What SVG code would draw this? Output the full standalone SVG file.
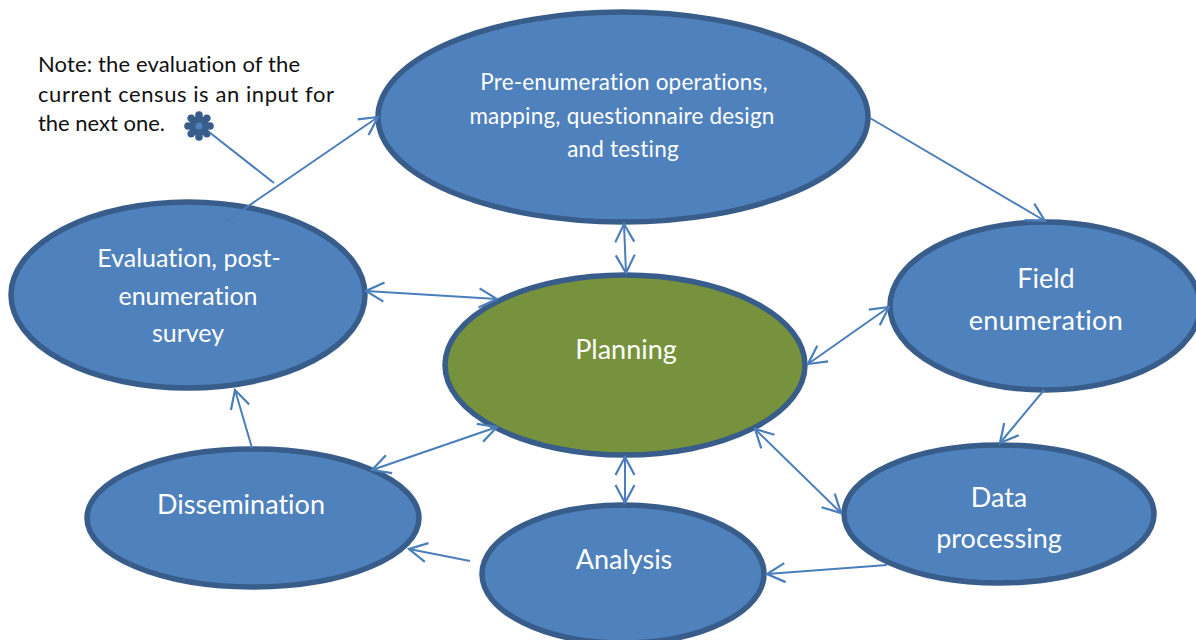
<svg xmlns="http://www.w3.org/2000/svg" width="1196" height="640" viewBox="0 0 1196 640">
<style>
.n{stroke:#385d8a;stroke-width:5.500}
.b{fill:#4f81bd}
.g{fill:#76923c}
text{font-family:"Lato","Open Sans","Liberation Sans",sans-serif;text-anchor:middle;fill:#fff;font-variant-ligatures:none}
.s{font-size:22.500px;letter-spacing:.2px}
.m{font-size:25px}
.l{font-size:27px}
.e{letter-spacing:.4px}
.note{font-size:22px;fill:#111;text-anchor:start}
.c{fill:none;stroke:#4a7ebb;stroke-width:2;marker-end:url(#a)}
.d{marker-start:url(#a)}
.p{fill:none;stroke:#4a7ebb;stroke-width:2}
</style>
<defs>
<marker id="a" markerUnits="userSpaceOnUse" markerWidth="24" markerHeight="24" refX="20" refY="12" orient="auto-start-reverse">
<path d="M2 2.500L20 12L2 21.500" fill="none" stroke="#4a7ebb" stroke-width="2.200"/>
</marker>
</defs>
<rect width="1196" height="640" fill="#fff"/>
<g id="note"><text class="note" x="38" y="72" textLength="262">Note: the evaluation of the</text><text class="note" x="38" y="102" textLength="296">current census is an input for</text><text class="note" x="38" y="131" textLength="127">the next one.</text></g>
<g id="star" fill="#385d8a"><circle cx="199" cy="126" r="10"/><circle cx="199" cy="115" r="3.800"/><circle cx="199" cy="137" r="3.800"/><circle cx="188" cy="126" r="3.800"/><circle cx="210" cy="126" r="3.800"/><circle cx="191.200" cy="118.200" r="3.800"/><circle cx="206.800" cy="118.200" r="3.800"/><circle cx="191.200" cy="133.800" r="3.800"/><circle cx="206.800" cy="133.800" r="3.800"/><circle cx="199" cy="126" r="3.500" fill="#4f81bd"/></g>
<g id="pre"><ellipse class="n b" cx="623" cy="117" rx="245" ry="105"/><text class="s" x="624" y="90">Pre-enumeration operations,</text><text class="s" x="622" y="124">mapping, questionnaire design</text><text class="s" x="623" y="157">and testing</text></g>
<g id="planning"><ellipse class="n g" cx="625" cy="365" rx="180" ry="90"/><text class="l" x="626" y="359">Planning</text></g>
<g id="evaluation"><ellipse class="n b" cx="188" cy="295" rx="177" ry="93"/><text class="m" x="189" y="267">Evaluation, post-</text><text class="m" x="188" y="305">enumeration</text><text class="m" x="188" y="342">survey</text></g>
<g id="field"><ellipse class="n b" cx="1045" cy="306" rx="155" ry="84"/><text class="l" x="1046" y="288">Field</text><text class="l e" x="1046" y="330">enumeration</text></g>
<g id="data"><ellipse class="n b" cx="999" cy="514" rx="155" ry="69"/><text class="l" x="999" y="507">Data</text><text class="l" x="999" y="548">processing</text></g>
<g id="analysis"><ellipse class="n b" cx="623" cy="574" rx="141" ry="69"/><text class="l" x="624" y="569">Analysis</text></g>
<g id="dissemination"><ellipse class="n b" cx="253" cy="518" rx="166" ry="69"/><text class="l" x="241" y="514">Dissemination</text></g>
<g id="connectors">
<path class="p" d="M274 183L209 132"/>
<path class="c" d="M225 222L378 117"/>
<path class="c" d="M870 118L1045 221"/>
<path class="c d" d="M624 224L626 273"/>
<path class="c d" d="M366 291L497 299"/>
<path class="c d" d="M808 364L889 307"/>
<path class="c" d="M1044 390L1000 443"/>
<path class="c d" d="M755 429L841 513"/>
<path class="c" d="M887 565L767 574"/>
<path class="c d" d="M625 457L625 503"/>
<path class="c" d="M470 561L409 549"/>
<path class="c d" d="M372 470L497 427"/>
<path class="c" d="M252 448L235 390"/>
</g>
</svg>
